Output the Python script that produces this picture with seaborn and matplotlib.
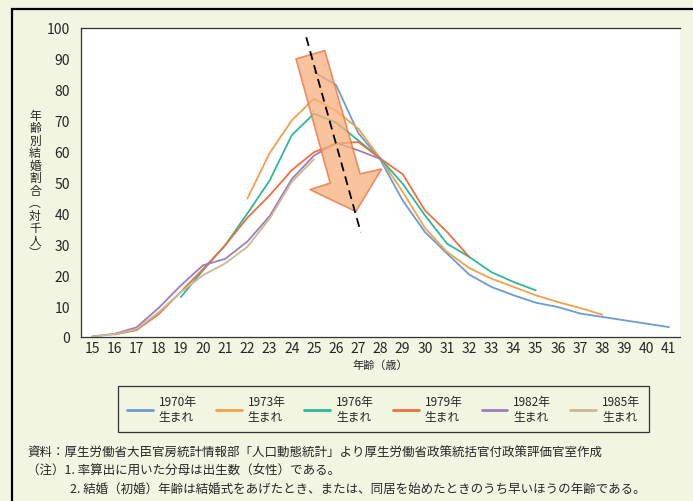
import numpy as np
import pandas as pd
import matplotlib
matplotlib.use("Agg")
import matplotlib.pyplot as plt
from matplotlib.patches import Polygon, Rectangle
from matplotlib.lines import Line2D
import seaborn as sns

sns.set_theme(style="white")
plt.rcParams['font.family'] = ['Noto Sans CJK JP', 'DejaVu Sans']

# ---------------- data ----------------
ages = list(range(15, 42))
n = np.nan
cohorts = ["1970年\n生まれ", "1973年\n生まれ", "1976年\n生まれ",
           "1979年\n生まれ", "1982年\n生まれ", "1985年\n生まれ"]
#            15 16 17 18 19 20 21 22 23 24 25 26 27 28 29 30 31 32 33 34 35 36 37 38 39 40 41
v1970 = [n, n, n, n, n, n, n, n, n, n, 85.8, 81.5, 66.0, 57.3, 44.2, 34.0, 27.0, 20.2, 16.2, 13.5, 11.1, 9.7, 7.6, 6.5, 5.4, 4.3, 3.2]
v1973 = [n, n, n, n, n, n, n, 44.8, 59.5, 70.1, 77.1, 73.2, 67.4, 57.7, 47.0, 35.3, 27.5, 22.3, 18.9, 16.2, 13.5, 11.3, 9.4, 7.2, n, n, n]
v1976 = [n, n, n, n, 12.9, 21.6, 29.7, 40.0, 50.6, 65.3, 72.3, 69.4, 63.6, 57.7, 49.6, 39.4, 30.2, 25.9, 21.0, 17.8, 15.1, n, n, n, n, n, n]
v1979 = [n, 0.8, 2.2, 7.4, 14.6, 22.0, 29.7, 38.6, 45.8, 54.0, 59.8, 62.6, 63.1, 57.7, 52.7, 41.0, 34.0, 25.9, n, n, n, n, n, n, n, n, n]
v1982 = [0.2, 1.0, 3.1, 9.4, 16.7, 23.2, 25.3, 30.9, 39.1, 51.1, 58.7, 62.8, 60.4, 57.6, n, n, n, n, n, n, n, n, n, n, n, n, n]
v1985 = [0.1, 0.9, 2.5, 8.0, 14.5, 20.0, 23.8, 29.2, 38.3, 50.2, 57.5, n, n, n, n, n, n, n, n, n, n, n, n, n, n, n, n]
series = [v1970, v1973, v1976, v1979, v1982, v1985]
colors = ["#6C9BD2", "#F5A04B", "#2DB89E", "#EE7040", "#9A80B8", "#C9B995"]
ytick_vals = list(range(0, 101, 10))

rows = []
for name, vals in zip(cohorts, series):
    for a, v in zip(ages, vals):
        if not np.isnan(v):
            rows.append({"age": a, "rate": v, "cohort": name})
df = pd.DataFrame(rows)

# ---------------- figure ----------------
bg = "#F2F5E1"
W, H = 693, 502
fig = plt.figure(figsize=(W / 100, H / 100), dpi=100, facecolor=bg)
ax = fig.add_axes([81 / W, 1 - 338 / H, 599 / W, 309 / H])
ax.set_facecolor("white")

sns.lineplot(data=df, x="age", y="rate", hue="cohort", hue_order=cohorts,
             palette=colors, linewidth=1.3, ax=ax, legend=False, sort=True)

ax.set_xlim(14.5, 41.5)
ax.set_ylim(0, 100)
ax.set_xticks(ages)
ax.set_xticklabels([str(a) for a in ages], fontsize=10)
ax.set_xticks([a + 0.5 for a in ages[:-1]], minor=True)
ax.tick_params(axis="x", which="major", length=0, pad=3)
ax.tick_params(axis="x", which="minor", direction="in", length=4, color="#333333", width=0.8)
ax.set_yticks(ytick_vals)
ax.set_yticklabels([str(v) for v in ytick_vals], fontsize=10)
ax.tick_params(axis="y", length=0, pad=8)
for s in ax.spines.values():
    s.set_color("#333333")
    s.set_linewidth(0.9)
ax.spines["right"].set_visible(False)
ax.set_xlabel("")
ax.set_ylabel("")

# x label
fig.text(380 / W, 1 - 366 / H, "年齢（歳）", ha="center", va="center", fontsize=8)
# vertical y label
ylab = "年齢別結婚割合︵対千人︶"
fig.text(35 / W, 1 - 185 / H, "\n".join(ylab), ha="center", va="center",
         fontsize=8.5, linespacing=0.95)

# arrow (axes-fraction coords)
arrow_pts = [(0.359, 0.900), (0.407, 0.927), (0.466, 0.528), (0.502, 0.544),
             (0.459, 0.406), (0.382, 0.477), (0.416, 0.498)]
ax.add_patch(Polygon(arrow_pts, closed=True, transform=ax.transAxes,
                     facecolor="#F7B07C", alpha=0.75, edgecolor="#E8703A",
                     linewidth=1.2, zorder=5))
ax.add_line(Line2D([0.376, 0.467], [0.970, 0.339], transform=ax.transAxes,
                   color="black", linestyle=(0, (5, 3)), linewidth=1.3, zorder=6))

# legend
handles = [Line2D([0], [0], color=c, linewidth=2) for c in colors]
leg = fig.legend(handles, cohorts, loc="center", ncol=6,
                 bbox_to_anchor=(383.5 / W, 1 - 410 / H), bbox_transform=fig.transFigure,
                 frameon=True, fancybox=False, edgecolor="#333333", facecolor=bg,
                 fontsize=8.5, handlelength=2.2, handletextpad=0.5, columnspacing=1.6,
                 borderpad=0.75)
leg.get_frame().set_linewidth(0.9)
leg.get_frame().set_alpha(1)

# notes
fig.text(27 / W, 1 - 453 / H,
         "資料：厚生労働省大臣官房統計情報部「人口動態統計」より厚生労働省政策統括官付政策評価官室作成",
         fontsize=9.0, va="center", ha="left")
fig.text(27 / W, 1 - 471 / H, "（注）1. 率算出に用いた分母は出生数（女性）である。",
         fontsize=9.0, va="center", ha="left")
fig.text(70 / W, 1 - 489 / H,
         "2. 結婚（初婚）年齢は結婚式をあげたとき、または、同居を始めたときのうち早いほうの年齢である。",
         fontsize=9.0, va="center", ha="left")

# outer frame
fig.patches.append(Rectangle((12 / W, -0.1), 1.2, 1 - 10 / H + 0.1,
                             transform=fig.transFigure, fill=False,
                             edgecolor="black", linewidth=1.6))

fig.savefig("out.png", dpi=100, facecolor=bg)
